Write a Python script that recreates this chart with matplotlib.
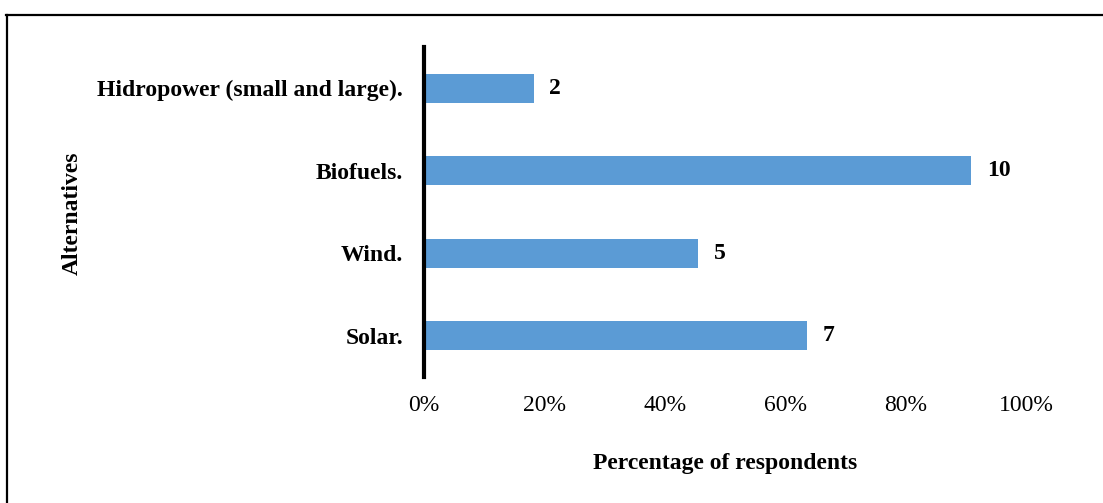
import matplotlib
matplotlib.use("Agg")
import matplotlib.pyplot as plt
from matplotlib.lines import Line2D

categories = ["Solar.", "Wind.", "Biofuels.", "Hidropower (small and large)."]
counts = [7, 5, 10, 2]
percentages = [63.6, 45.5, 90.9, 18.2]
xticks = [0, 20, 40, 60, 80, 100]

plt.rcParams['font.family'] = ['Liberation Serif', 'DejaVu Serif']

fig = plt.figure(figsize=(11.03, 5.03), dpi=100)
ax = fig.add_axes([424/1103, 1-377/503, (1026-424)/1103, (377-47)/503])

bars = ax.barh(range(len(categories)), percentages, height=0.35, color="#5B9BD5")
for i, (p, c) in enumerate(zip(percentages, counts)):
    ax.text(p + 2.6, i, str(c), va="center", ha="left", fontsize=17, fontweight="bold")

ax.set_xlim(0, 100)
ax.set_ylim(-0.5, len(categories) - 0.5)
ax.set_xticks(xticks)
ax.set_xticklabels([f"{t}%" for t in xticks], fontsize=17)
ax.set_yticks(range(len(categories)))
ax.set_yticklabels(categories, fontsize=17, fontweight="bold")
ax.tick_params(axis="both", length=0)
ax.tick_params(axis="x", pad=13)
ax.tick_params(axis="y", pad=15)
for s in ["top", "right", "bottom"]:
    ax.spines[s].set_visible(False)
ax.spines["left"].set_linewidth(3)
ax.spines["left"].set_color("black")

fig.text(725/1103, 1-463/503, "Percentage of respondents", ha="center", va="center",
         fontsize=17, fontweight="bold")
fig.text(72/1103, 1-213/503, "Alternatives", ha="center", va="center",
         rotation=90, fontsize=17, fontweight="bold")

# outer border (partially visible)
fig.add_artist(Line2D([6/1103, 1.0], [1-15/503, 1-15/503], color="black", lw=1.6,
                      transform=fig.transFigure))
fig.add_artist(Line2D([7/1103, 7/1103], [1-15/503, 0.0], color="black", lw=1.6,
                      transform=fig.transFigure))

fig.savefig("out.png", dpi=100)
